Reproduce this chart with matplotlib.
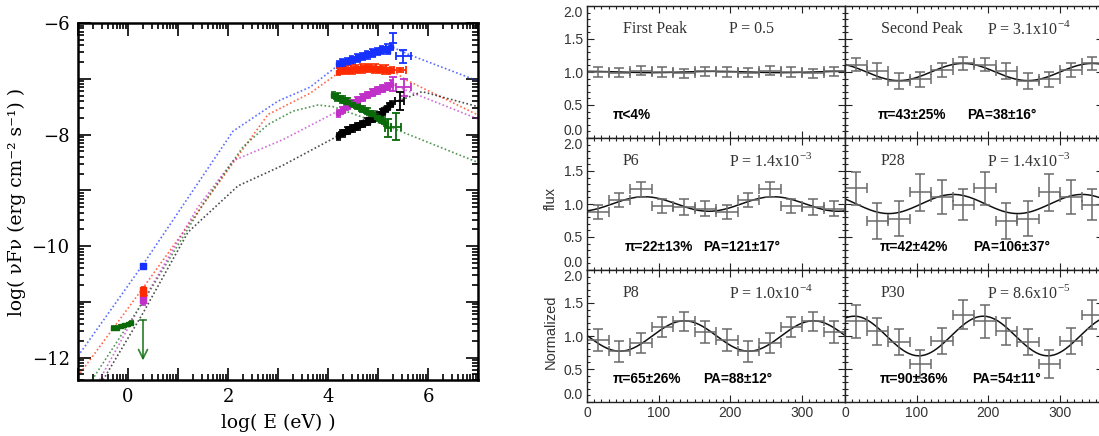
import numpy as np
import matplotlib
matplotlib.use("Agg")
import matplotlib.pyplot as plt
from matplotlib.ticker import FixedLocator, MultipleLocator, NullFormatter

plt.rcParams["mathtext.fontset"] = "custom"
plt.rcParams["mathtext.rm"] = "Liberation Serif"

# === SED: model curves (log E, log nuFnu) ===
blue_mx = [-1.0, 0.3, 2.1, 3.0, 3.64, 4.2, 5.25, 5.66, 7.0]
blue_my = [-11.97, -10.33, -7.94, -7.40, -7.15, -6.76, -6.42, -6.58, -7.04]
red_mx = [-1.0, 0.3, 2.8, 3.64, 4.2, 5.3, 5.56, 7.0]
red_my = [-12.33, -10.75, -7.64, -7.26, -6.9, -6.86, -7.02, -7.65]
mag_mx = [-0.57, 0.3, 1.4, 2.1, 3.1, 4.2, 5.3, 5.6, 7.0]
mag_my = [-12.4, -10.98, -9.3, -8.47, -8.09, -7.58, -7.1, -7.22, -7.72]
grn_mx = [-0.72, 0.3, 1.5, 2.3, 2.8, 3.3, 3.8, 4.1, 5.2, 7.0]
grn_my = [-12.4, -11.0, -9.25, -8.22, -7.82, -7.58, -7.47, -7.5, -7.85, -8.5]
blk_mx = [-0.5, 0.3, 1.2, 2.2, 3.1, 4.25, 5.2, 5.55, 5.88, 7.0]
blk_my = [-12.4, -11.2, -9.75, -8.92, -8.55, -8.0, -7.45, -7.35, -7.23, -7.5]

# === SED: X-ray spectra ===
xr_x = [4.20, 4.25, 4.30, 4.35, 4.40, 4.45, 4.50, 4.55, 4.60, 4.65, 4.70,
        4.75, 4.80, 4.85, 4.90, 4.95, 5.00, 5.05, 5.10, 5.15, 5.20, 5.25]
blue_y = [-6.74, -6.71, -6.73, -6.68, -6.70, -6.65, -6.67, -6.62, -6.64, -6.59, -6.61,
          -6.56, -6.58, -6.53, -6.55, -6.50, -6.52, -6.47, -6.49, -6.44, -6.50, -6.43]
red_y = [-6.87, -6.84, -6.86, -6.83, -6.86, -6.82, -6.85, -6.81, -6.84, -6.80, -6.83,
         -6.79, -6.82, -6.80, -6.83, -6.80, -6.84, -6.81, -6.85, -6.82, -6.86, -6.84]
mag_y = [-7.62, -7.57, -7.56, -7.50, -7.49, -7.44, -7.44, -7.39, -7.38, -7.34, -7.34,
         -7.29, -7.29, -7.25, -7.25, -7.21, -7.21, -7.17, -7.18, -7.14, -7.14, -7.09]
blk_y = [-8.03, -7.97, -7.98, -7.93, -7.93, -7.89, -7.89, -7.85, -7.85, -7.81, -7.81,
         -7.77, -7.77, -7.72, -7.72, -7.67, -7.66, -7.61, -7.59, -7.54, -7.50, -7.45]
grn_x = [4.10, 4.15, 4.20, 4.25, 4.30, 4.35, 4.40, 4.45, 4.50, 4.55, 4.60,
         4.65, 4.70, 4.75, 4.80, 4.85, 4.90, 4.95, 5.00, 5.05, 5.10, 5.15]
grn_y = [-7.29, -7.33, -7.32, -7.37, -7.37, -7.41, -7.41, -7.45, -7.45, -7.49, -7.49,
         -7.54, -7.54, -7.58, -7.59, -7.63, -7.64, -7.69, -7.69, -7.74, -7.75, -7.81]

# hard X-ray points: (x, y, xerr, yerr)
blue_hx = [(5.30, -6.27, 0.0, 0.09), (5.50, -6.60, 0.15, 0.12)]
red_hx = [(5.43, -6.84, 0.12, 0.04)]
mag_hx = [(5.30, -7.09, 0.0, 0.13), (5.51, -7.15, 0.15, 0.15)]
blk_hx = [(5.43, -7.40, 0.10, 0.16)]
grn_hx = [(5.20, -7.88, 0.06, 0.16), (5.36, -7.86, 0.10, 0.24)]

# optical points
opt_x = 0.3
blue_opt = [(-10.36, 0.04)]
red_opt = [(-10.78, 0.05), (-10.86, 0.06)]
mag_opt = [(-10.97, 0.08)]
grn_opt_x = [-0.30, -0.22, -0.15, -0.08, 0.0, 0.05]
grn_opt_y = [-11.47, -11.46, -11.44, -11.42, -11.40, -11.38]
grn_ul = (-11.33, -12.05)

C_BLUE, C_RED, C_MAG, C_GRN, C_BLK = "#1530ff", "#ff2a00", "#c030c8", "#0a6a0a", "#000000"

# === Polarization: phase-folded normalised flux (6 bins, shown twice) ===
panel_names = ["First Peak", "Second Peak", "P6", "P28", "P8", "P30"]
panel_prob = ["P = 0.5", "P = 3.1x10$^{-4}$", "P = 1.4x10$^{-3}$",
              "P = 1.4x10$^{-3}$", "P = 1.0x10$^{-4}$", "P = 8.6x10$^{-5}$"]
panel_pi = ["π<4%", "π=43±25%", "π=22±13%", "π=42±42%", "π=65±26%", "π=90±36%"]
panel_pa = ["", "PA=38±16°", "PA=121±17°", "PA=106±37°", "PA=88±12°", "PA=54±11°"]
pi_xpos = [36, 45, 53, 49, 36, 49]
pa_xpos = [0, 171, 162, 179, 162, 177]

flux = [
    [1.00, 0.99, 1.02, 1.00, 0.98, 1.01],
    [1.11, 1.01, 0.86, 0.89, 1.03, 1.13],
    [0.88, 1.06, 1.22, 0.97, 0.96, 0.93],
    [1.24, 0.74, 0.78, 1.18, 1.11, 0.99],
    [0.94, 0.77, 0.90, 1.14, 1.22, 1.06],
    [1.22, 1.07, 0.91, 0.58, 0.92, 1.32],
]
flux_err = [
    [0.07, 0.07, 0.07, 0.07, 0.07, 0.07],
    [0.10, 0.12, 0.12, 0.11, 0.10, 0.10],
    [0.11, 0.11, 0.12, 0.11, 0.12, 0.11],
    [0.25, 0.27, 0.27, 0.28, 0.26, 0.24],
    [0.16, 0.16, 0.15, 0.15, 0.15, 0.16],
    [0.25, 0.21, 0.20, 0.21, 0.20, 0.22],
]
# fitted modulation: amplitude, angle of maximum (deg)
mod_amp = [0.01, 0.13, 0.11, 0.145, 0.23, 0.30]
mod_phase = [0, 165, 80, 151, 136, 13]

fig = plt.figure(figsize=(10.99, 4.36), dpi=100)

# ---------------- SED panel ----------------
W, H = 1099.0, 436.0
ax = fig.add_axes([78 / W, 1 - 380 / H, 400 / W, 357 / H])
serif = "DejaVu Serif"
for mx, my, c in [(blue_mx, blue_my, C_BLUE), (red_mx, red_my, C_RED),
                  (mag_mx, mag_my, C_MAG), (grn_mx, grn_my, C_GRN),
                  (blk_mx, blk_my, C_BLK)]:
    ax.plot(mx, my, color=c, lw=1.2, ls=(0, (1, 1.4)), alpha=0.7)

ekw = dict(fmt="s", ms=3.2, capsize=1.8, elinewidth=1.4, capthick=1.2)
for y, c in [(blue_y, C_BLUE), (red_y, C_RED), (mag_y, C_MAG), (blk_y, C_BLK)]:
    ax.errorbar(xr_x, y, xerr=0.03, yerr=0.06, color=c, **ekw)
ax.errorbar(grn_x, grn_y, xerr=0.03, yerr=0.06, color=C_GRN, **ekw)

for pts, c in [(blue_hx, C_BLUE), (red_hx, C_RED), (mag_hx, C_MAG),
               (blk_hx, C_BLK), (grn_hx, C_GRN)]:
    for (x, y, xe, ye) in pts:
        ax.errorbar(x, y, xerr=xe if xe else None, yerr=ye, color=c, fmt="none",
                    capsize=3, elinewidth=1.3, capthick=1.3)

for pts, c in [(blue_opt, C_BLUE), (red_opt, C_RED), (mag_opt, C_MAG)]:
    for (y, ye) in pts:
        ax.errorbar(opt_x, y, xerr=0.05, yerr=ye, color=c, **dict(ekw, ms=4))
ax.errorbar(grn_opt_x, grn_opt_y, xerr=0.03, yerr=0.03, color=C_GRN, **ekw)
ax.plot([opt_x - 0.06, opt_x + 0.06], [grn_ul[0]] * 2, color=C_GRN, lw=1.3, alpha=0.8)
ax.annotate("", xy=(opt_x, grn_ul[1]), xytext=(opt_x, grn_ul[0]),
            arrowprops=dict(arrowstyle="->", color=C_GRN, lw=1.3, mutation_scale=16,
                            alpha=0.8, shrinkA=0, shrinkB=0))

ax.set_xlim(-1, 7)
ax.set_ylim(-12.4, -6)
ax.xaxis.set_major_locator(FixedLocator(range(-1, 8)))
ax.yaxis.set_major_locator(FixedLocator(range(-12, -5)))
xminor = [n + np.log10(k) for n in range(-1, 7) for k in range(2, 10)]
yminor = [n + np.log10(k) for n in range(-13, -6) for k in range(2, 10)]
ax.xaxis.set_minor_locator(FixedLocator(xminor))
ax.yaxis.set_minor_locator(FixedLocator(yminor))
ax.set_xticklabels(["" if v % 2 else str(v).replace("-", "\u2212") for v in range(-1, 8)],
                   fontfamily=serif, fontsize=13)
ax.set_yticklabels(["" if v % 2 else str(v).replace("-", "\u2212") for v in range(-12, -5)],
                   fontfamily=serif, fontsize=13)
ax.tick_params(which="both", direction="in", top=True, right=True, width=1.2)
ax.tick_params(which="major", length=9, pad=6)
ax.tick_params(which="minor", length=4.5)
for s in ax.spines.values():
    s.set_linewidth(1.8)
ax.set_xlabel("log( E (eV) )", fontfamily=serif, fontsize=13.5, labelpad=5)
ax.set_ylabel("log( νFν (erg cm⁻² s⁻¹) )", fontfamily=serif, fontsize=13.5, labelpad=4)

# ---------------- polarization panels ----------------
col_x = [587 / W, 845 / W]
col_w = 258 / W
row_top = [6, 138, 270]
row_h = 132 / H
bins = np.arange(15, 360, 30)
phi = np.linspace(0, 360, 361)

for i in range(6):
    r, c = divmod(i, 2)
    pax = fig.add_axes([col_x[c], 1 - (row_top[r] + 132) / H, col_w, row_h])
    vals = np.tile(flux[i], 2)
    errs = np.tile(flux_err[i], 2)
    model = 1 + mod_amp[i] * np.cos(np.radians(2 * (phi - mod_phase[i])))
    pax.plot(phi, model, color="#111111", lw=1.1)
    pax.errorbar(bins, vals, xerr=15, yerr=errs, fmt="none", ecolor="#6a6a6a",
                 elinewidth=1.1, capsize=3.5, capthick=1.1)

    pax.set_xlim(0, 360)
    pax.set_ylim(0, 2)
    pax.xaxis.set_major_locator(MultipleLocator(100))
    pax.xaxis.set_minor_locator(MultipleLocator(10))
    pax.yaxis.set_major_locator(MultipleLocator(0.5))
    pax.yaxis.set_minor_locator(MultipleLocator(0.1))
    pax.tick_params(which="both", direction="in", top=True, right=True,
                    color="#222222", width=0.8)
    pax.tick_params(which="major", length=5, labelsize=10, labelcolor="#333333", pad=3)
    pax.tick_params(which="minor", length=2.5)
    for s in pax.spines.values():
        s.set_linewidth(1.0)
        s.set_color("#222222")
    if c == 1:
        pax.yaxis.set_major_formatter(NullFormatter())
    else:
        pax.set_yticks([0, 0.5, 1.0, 1.5, 2.0])
        pax.set_yticklabels(["0.0", "0.5", "1.0", "1.5", "2.0"], fontfamily="Liberation Sans")
        ylabs = pax.get_yticklabels()
        ylabs[0].set_verticalalignment("bottom")
        ylabs[-1].set_verticalalignment("top")
    if r < 2:
        pax.xaxis.set_major_formatter(NullFormatter())
    else:
        pax.set_xticks([0, 100, 200, 300])
        pax.set_xticklabels(["0", "100", "200", "300"], fontfamily="Liberation Sans")

    pax.text(50, 1.65, panel_names[i], fontfamily="Liberation Serif", fontsize=11.5,
             color="#333333", va="center")
    pax.text(198, 1.65, panel_prob[i], fontfamily="Liberation Serif", fontsize=11.5,
             color="#333333", va="center")
    pax.text(pi_xpos[i], 0.35, panel_pi[i], fontfamily="Liberation Sans", fontsize=9.8,
             fontweight="bold", va="center")
    if panel_pa[i]:
        pax.text(pa_xpos[i], 0.35, panel_pa[i], fontfamily="Liberation Sans", fontsize=9.8,
                 fontweight="bold", va="center")

fig.text(551 / W, 1 - 332 / H, "Normalized", rotation=90, ha="center", va="center",
         fontfamily="Liberation Sans", fontsize=10.5, color="#333333")
fig.text(551 / W, 1 - 198 / H, "flux", rotation=90, ha="center", va="center",
         fontfamily="Liberation Sans", fontsize=10.5, color="#333333")

fig.savefig("out.png", dpi=100)
